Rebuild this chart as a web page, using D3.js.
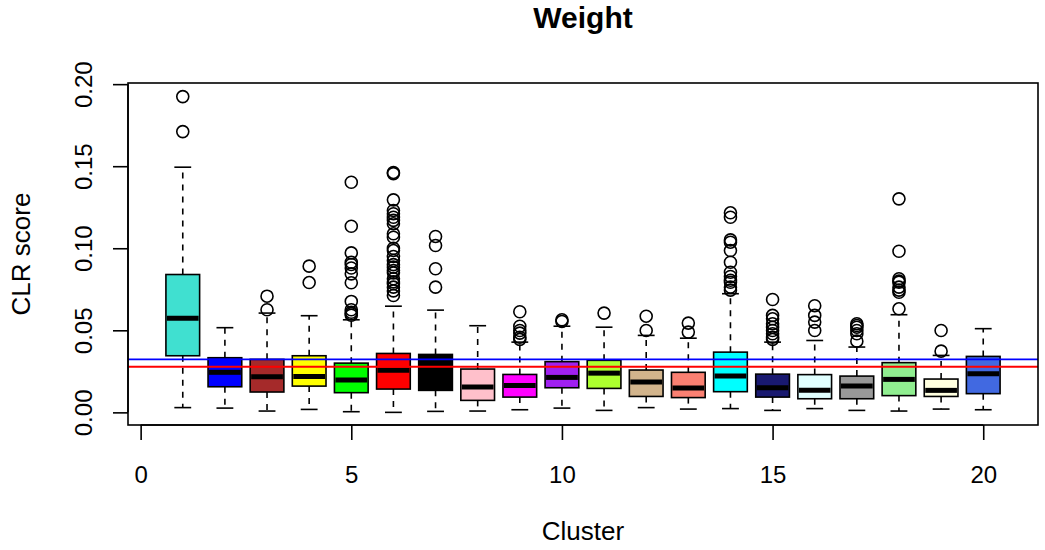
<!DOCTYPE html>
<html>
<head>
<meta charset="utf-8">
<script src="https://cdn.jsdelivr.net/npm/d3@7"></script>
<style>
  body { margin: 0; background: #fff; }
  text { font-family: "Liberation Sans", Arial, sans-serif; fill: #000; }
</style>
</head>
<body>
<div id="chart"></div>
<script>
// data
const clusters = d3.range(1, 21);
const colors = ["#40E0D0", "#0000FF", "#A52A2A", "#FFFF00", "#00FF00", "#FF0000", "#000000",
  "#FFC0CB", "#FF00FF", "#A020F0", "#ADFF2F", "#D2B48C", "#FA8072", "#00FFFF",
  "#191970", "#E0FFFF", "#999999", "#90EE90", "#FFFFE0", "#4169E1"];
const lowWhisker = [0.0029, 0.0026, 0.0008, 0.0018, 0.0004, 0.0000, 0.0006, 0.0008, 0.0016, 0.0026,
  0.0012, 0.0029, 0.0020, 0.0023, 0.0012, 0.0023, 0.0012, 0.0008, 0.0020, 0.0016];
const q1 = [0.0345, 0.0156, 0.0124, 0.0160, 0.0120, 0.0142, 0.0134, 0.0073, 0.0093, 0.0150,
  0.0146, 0.0097, 0.0090, 0.0126, 0.0093, 0.0083, 0.0083, 0.0102, 0.0097, 0.0114];
const medians = [0.0574, 0.0244, 0.0217, 0.0219, 0.0197, 0.0256, 0.0300, 0.0154, 0.0164, 0.0213,
  0.0239, 0.0185, 0.0148, 0.0221, 0.0150, 0.0134, 0.0160, 0.0201, 0.0134, 0.0236];
const q3 = [0.0840, 0.0333, 0.0323, 0.0345, 0.0300, 0.0359, 0.0353, 0.0264, 0.0231, 0.0309,
  0.0317, 0.0258, 0.0244, 0.0367, 0.0233, 0.0230, 0.0221, 0.0303, 0.0203, 0.0341];
const highWhisker = [0.1494, 0.0516, 0.0605, 0.0589, 0.0564, 0.0647, 0.0623, 0.0528, 0.0428, 0.0525,
  0.0519, 0.0469, 0.0452, 0.0723, 0.0428, 0.0438, 0.0398, 0.0595, 0.0347, 0.0510];
const outliers = [
  [0.1924, 0.1711],
  [],
  [0.0708, 0.0625],
  [0.0891, 0.0791],
  [0.1402, 0.1134, 0.0972, 0.0915, 0.0901, 0.0880, 0.0844, 0.0790, 0.0676, 0.0625, 0.0610, 0.0601, 0.0592],
  [0.1462, 0.1455, 0.1295, 0.1230, 0.1210, 0.1189, 0.1170, 0.1149, 0.1088, 0.1067, 0.1000, 0.0986,
   0.0950, 0.0925, 0.0900, 0.0885, 0.0864, 0.0850, 0.0814, 0.0795, 0.0784, 0.0763, 0.0740, 0.0712],
  [0.1072, 0.1017, 0.0875, 0.0763],
  [],
  [0.0613, 0.0525, 0.0499, 0.0483, 0.0458, 0.0445],
  [0.0564, 0.0554],
  [0.0605],
  [0.0586, 0.0499],
  [0.0544, 0.0489],
  [0.1216, 0.1189, 0.1051, 0.1037, 0.0986, 0.0915, 0.0854, 0.0828, 0.0805, 0.0793, 0.0763, 0.0745],
  [0.0688, 0.0591, 0.0570, 0.0540, 0.0519, 0.0499, 0.0479, 0.0458, 0.0445],
  [0.0650, 0.0591, 0.0550, 0.0499],
  [0.0540, 0.0529, 0.0519, 0.0499, 0.0479, 0.0434],
  [0.1301, 0.0982, 0.0814, 0.0800, 0.0793, 0.0763, 0.0745, 0.0732, 0.0631],
  [0.0499, 0.0373],
  []
];
const refLines = [0.0323, 0.0278];
const refColors = ["#0000FF", "#FF0000"];
const xTicks = [0, 5, 10, 15, 20];
const yTicks = [0, 0.05, 0.10, 0.15, 0.20];

const W = 1045, H = 550;
const pLeft = 128, pRight = 1038, pTop = 83, pBottom = 425;

const svg = d3.select("#chart").append("svg")
  .attr("width", W).attr("height", H);

const x = d3.scaleLinear().domain([-0.3, 21.3]).range([pLeft, pRight]);
const y = d3.scaleLinear().domain([-0.0077, 0.2007]).range([pBottom, pTop]);

const boxW = x(0.8) - x(0);
const capW = x(0.4) - x(0);

svg.append("clipPath").attr("id", "plotclip")
  .append("rect").attr("x", pLeft).attr("y", pTop)
  .attr("width", pRight - pLeft).attr("height", pBottom - pTop);

const g = svg.append("g");

// whiskers
clusters.forEach((c, i) => {
  const cx = x(c);
  [[q3[i], highWhisker[i]], [q1[i], lowWhisker[i]]].forEach(([a, b]) => {
    g.append("line")
      .attr("x1", cx).attr("x2", cx).attr("y1", y(a)).attr("y2", y(b))
      .attr("stroke", "#000").attr("stroke-width", 1.6).attr("stroke-dasharray", "6,6");
    g.append("line")
      .attr("x1", cx - capW / 2).attr("x2", cx + capW / 2).attr("y1", y(b)).attr("y2", y(b))
      .attr("stroke", "#000").attr("stroke-width", 1.6);
  });
});

// boxes
g.selectAll("rect.box").data(clusters).enter()
  .append("rect").attr("class", "box")
  .attr("x", c => x(c) - boxW / 2)
  .attr("y", (c, i) => y(q3[i]))
  .attr("width", boxW)
  .attr("height", (c, i) => y(q1[i]) - y(q3[i]))
  .attr("fill", (c, i) => colors[i])
  .attr("stroke", "#000").attr("stroke-width", 1.6);

// medians
g.selectAll("line.med").data(clusters).enter()
  .append("line").attr("class", "med")
  .attr("x1", c => x(c) - boxW / 2 + 1)
  .attr("x2", c => x(c) + boxW / 2 - 1)
  .attr("y1", (c, i) => y(medians[i]))
  .attr("y2", (c, i) => y(medians[i]))
  .attr("stroke", "#000").attr("stroke-width", 5);

// outliers
clusters.forEach((c, i) => {
  g.selectAll(null).data(outliers[i]).enter()
    .append("circle")
    .attr("cx", x(c)).attr("cy", d => y(d)).attr("r", 6)
    .attr("fill", "none").attr("stroke", "#000").attr("stroke-width", 1.6);
});

// reference lines
svg.append("g").attr("clip-path", "url(#plotclip)")
  .selectAll("line").data(refLines).enter()
  .append("line")
  .attr("x1", pLeft).attr("x2", pRight)
  .attr("y1", d => y(d)).attr("y2", d => y(d))
  .attr("stroke", (d, i) => refColors[i]).attr("stroke-width", 1.8);

// plot frame
svg.append("rect")
  .attr("x", pLeft).attr("y", pTop)
  .attr("width", pRight - pLeft).attr("height", pBottom - pTop)
  .attr("fill", "none").attr("stroke", "#000").attr("stroke-width", 1.6);

// x axis
const xAxis = svg.append("g").attr("transform", `translate(0,${pBottom})`)
  .call(d3.axisBottom(x).tickValues(xTicks).tickSize(15).tickFormat(d3.format("d")));
xAxis.select(".domain").attr("d", `M${x(0)},0H${x(20)}`).attr("stroke-width", 1.6);
xAxis.selectAll(".tick line").attr("stroke-width", 1.6);
xAxis.selectAll(".tick text").attr("font-size", 24).attr("dy", null).attr("y", 58)
  .style("font-family", "Liberation Sans, Arial, sans-serif");

// y axis
const yAxis = svg.append("g").attr("transform", `translate(${pLeft},0)`)
  .call(d3.axisLeft(y).tickValues(yTicks).tickSize(15).tickFormat(d3.format(".2f")));
yAxis.select(".domain").attr("d", `M0,${y(0)}V${y(0.2)}`).attr("stroke-width", 1.6);
yAxis.selectAll(".tick line").attr("stroke-width", 1.6);
yAxis.selectAll(".tick text")
  .attr("font-size", 24).attr("x", null).attr("dy", null)
  .attr("text-anchor", "middle")
  .attr("transform", "translate(-36,0) rotate(-90)")
  .style("font-family", "Liberation Sans, Arial, sans-serif");

// titles
svg.append("text").attr("x", (pLeft + pRight) / 2).attr("y", 28)
  .attr("text-anchor", "middle").attr("font-size", 30).attr("font-weight", "bold")
  .text("Weight");
svg.append("text").attr("x", (pLeft + pRight) / 2).attr("y", 540)
  .attr("text-anchor", "middle").attr("font-size", 26)
  .text("Cluster");
svg.append("text")
  .attr("transform", `translate(30,${(pTop + pBottom) / 2}) rotate(-90)`)
  .attr("text-anchor", "middle").attr("font-size", 26)
  .text("CLR score");
</script>
</body>
</html>
